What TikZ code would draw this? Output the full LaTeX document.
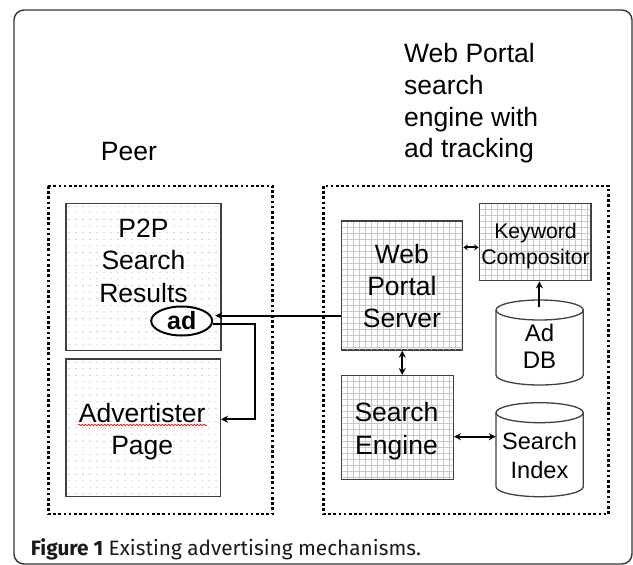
\documentclass[tikz,border=0pt]{standalone}
\usepackage{fontspec}
\setmainfont{Liberation Sans}
\newfontfamily\capfont{Fira Sans}
\usetikzlibrary{arrows.meta,shapes.geometric,decorations.pathmorphing}

% light dot raster inside a rectangle (x1,y1,x2,y2)
\newcommand\dotraster[4]{%
  \begin{scope}
    \clip (#1+1.5,#2+1.5) rectangle (#3-1.5,#4-1.5);
    \foreach \i in {0,...,23}{\foreach \j in {0,...,22}{%
      \fill[dotcol] ({#1+3+7*\i},{#2+3+6.6*\j}) circle[radius=0.55];}}
  \end{scope}}
% light square grid inside a rectangle (x1,y1,x2,y2)
\newcommand\gridraster[4]{%
  \begin{scope}
    \clip (#1+1,#2+1) rectangle (#3-1,#4-1);
    \foreach \k in {1,...,26}{%
      \draw[gridcol] ({#1+6*\k},#2) -- ({#1+6*\k},#4);
      \draw[gridcol] (#1,{#2+6*\k}) -- (#3,{#2+6*\k});}
  \end{scope}}

\begin{document}
\begin{tikzpicture}[x=1pt,y=-1pt,
  dotcol/.style={black!38},
  gridcol/.style={black!22,line width=0.7pt},
  boxline/.style={draw=black!75,line width=1.3pt},
  panel/.style={boxline,fill=white,inner sep=0pt},
  frameline/.style={line width=2.6pt,dash pattern=on 2.6pt off 2.6pt},
  big/.style={font=\fontsize{26.5}{32.3}\selectfont,align=center,inner sep=0pt},
  mid/.style={font=\fontsize{24}{27.5}\selectfont,align=center,inner sep=0pt},
  small/.style={font=\fontsize{21.2}{26}\selectfont,align=center,inner sep=0pt},
  conn/.style={line width=2pt},
  tip/.style={-{Stealth[length=7pt,width=7pt]}},
  twotip/.style={{Stealth[length=7pt,width=7pt]}-{Stealth[length=7pt,width=7pt]}},
  minitip/.style={{Stealth[length=4.5pt,width=6pt]}-{Stealth[length=4.5pt,width=6pt]}}]
\useasboundingbox (0,0) rectangle (633,565);

% outer card
\draw[black!80,line width=1.4pt,rounded corners=10pt] (14,10) rectangle (632,564);

% headings
\node[big,anchor=center] (peerhead) at (128.9,151.7) {Peer};
\node[big,align=left,anchor=west,font=\fontsize{26.5}{31.7}\selectfont] (porthead) at (404,103.5)
  {Web Portal\\search\\engine with\\ad tracking};

% dotted group frames
\draw[frameline] (48.3,186) rectangle (272.7,514);
\draw[frameline] (323.3,186) rectangle (608.7,514);

% peer side panels
\node[panel,minimum width=155pt,minimum height=147pt] (p2p) at (143.5,276.8) {};
\dotraster{66}{203.3}{221}{350.3}
\node[panel,minimum width=154.3pt,minimum height=137.7pt] (adv) at (143.2,427.85) {};
\dotraster{66}{359}{220.3}{496.7}

% portal side panels
\node[panel,minimum width=121pt,minimum height=129pt] (wps) at (402.2,285.5) {};
\gridraster{341.7}{221}{462.7}{350}
\node[panel,minimum width=111.7pt,minimum height=77.4pt] (kc) at (535.15,242) {};
\gridraster{479.3}{203.3}{591}{280.7}
\node[panel,minimum width=111.6pt,minimum height=103.6pt] (se) at (397.5,427.5) {};
\gridraster{341.7}{375.7}{453.3}{479.3}

% databases
\node[inner sep=0pt,minimum width=87.3pt,minimum height=85pt] (addb) at (539.65,342.5) {};
\draw[boxline,fill=white] (496,310) -- (496,375)
  .. controls (496,380.52) and (515.55,385) .. (539.65,385)
  .. controls (563.75,385) and (583.3,380.52) .. (583.3,375) -- (583.3,310);
\draw[boxline] (539.65,310) ellipse [x radius=43.65, y radius=10];
\coordinate (addbtop) at (539.4,307);

\node[inner sep=0pt,minimum width=87.3pt,minimum height=94pt] (sidx) at (539.65,449.7) {};
\draw[boxline,fill=white] (496,412.7) -- (496,486.7)
  .. controls (496,492.22) and (515.55,496.7) .. (539.65,496.7)
  .. controls (563.75,496.7) and (583.3,492.22) .. (583.3,486.7) -- (583.3,412.7);
\draw[boxline] (539.65,412.7) ellipse [x radius=43.65, y radius=10];

% panel texts
\node[big] (p2ptext) at (143.5,260.8) {P2P\\Search\\Results};
\node[big] (advtext) at (142.2,431.5) {Advertister\\Page};
% spell-check squiggle under the first word
\draw[red!85!black,line width=0.6pt,decorate,
      decoration={snake,segment length=3.2pt,amplitude=0.8pt}] (78,425) -- (206.5,425);
\node[big] (wpstext) at (401.9,286) {Web\\Portal\\Server};
\node[big,font=\fontsize{26.5}{33.3}\selectfont] (setext) at (396.5,431) {Search\\Engine};
\node[small] (kctext) at (535.5,246.1) {Keyword\\Compositor};
\node[mid] (addbtext) at (539.5,346.4) {Ad\\DB};
\node[mid,font=\fontsize{23.6}{29}\selectfont] (sidxtext) at (539.5,455.4) {Search\\Index};

% the ad link
\node[ellipse,draw=black,line width=2pt,fill=white,inner sep=0pt,
      minimum width=61pt,minimum height=29pt,font=\fontsize{25}{30}\selectfont\bfseries]
      (ad) at (181.7,321) {ad};

% connectors
\coordinate (adin) at ([yshift=5.3pt]ad.east);
\draw[conn,tip] (wps.west |- adin) -- ([xshift=2pt]adin);
\coordinate (route) at (255,324);
\draw[conn,tip] ([yshift=-3pt]ad.east) -- (route) |- ([yshift=8.6pt]adv.east);
\draw[conn,twotip] (wps.south) -- (wps.south |- se.north);
\coordinate (sein) at ([yshift=-9.2pt]se.east);
\draw[conn,twotip] (sein) -- (sidx.west |- sein);
\coordinate (kcin) at ([yshift=-5.3pt]kc.west);
\draw[conn,minitip] (wps.east |- kcin) -- (kcin);
\draw[conn,tip] (addbtop) -- (addbtop |- kc.south);

% caption
\node[anchor=base west,inner sep=0pt,text=black!90,font=\capfont\fontsize{20.8}{24}\selectfont]
  (caption) at (30.7,555) {\textbf{Figure 1} Existing advertising mechanisms.};
\end{tikzpicture}
\end{document}
